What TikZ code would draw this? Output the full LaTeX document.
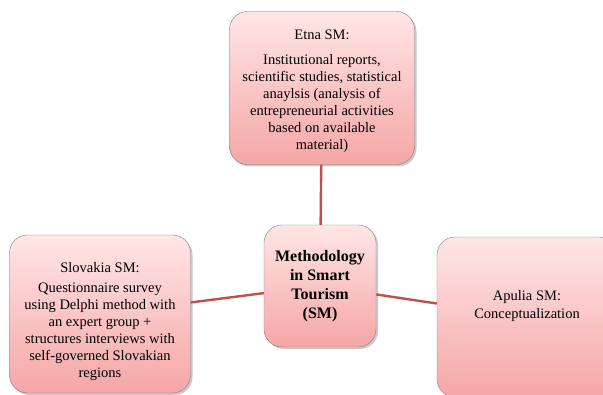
\documentclass[tikz,border=0pt]{standalone}
\usepackage{fontspec}
\setmainfont{Liberation Serif}
\usetikzlibrary{positioning}
\usetikzlibrary{shadows}
\definecolor{boxtop}{HTML}{FFE6E6}
\definecolor{boxbottom}{HTML}{F5A6A6}
\definecolor{boxline}{HTML}{7F7F7F}
\definecolor{linkred}{HTML}{C0504D}
\newcommand{\topgap}[1]{\rule{0pt}{#1}}
\begin{document}
\begin{tikzpicture}[
    x=1pt, y=-1pt,
    box/.style={draw=boxline, rounded corners=18pt, top color=boxtop, bottom color=boxbottom,
        align=center, inner sep=4pt, font=\rmfamily\fontsize{14.5}{17}\selectfont,
        drop shadow={shadow xshift=2pt, shadow yshift=-2pt, opacity=0.35, fill=black!60}},
    link/.style={draw=linkred, line width=2.4pt}
]
    \useasboundingbox (0,0) rectangle (603,395);
    % Center (methodology)
    \node[box, minimum width=112pt, minimum height=122pt, font=\rmfamily\fontsize{16}{19}\selectfont\bfseries] (sm) at (320,286)
        {Methodology\\in Smart\\Tourism\\(SM)};
    % Outer boxes
    \node[box, minimum width=185pt, minimum height=153pt] (etna) at (322,88)
        {\topgap{16pt}Etna SM:\\[8pt]Institutional reports,\\scientific studies, statistical\\anaylsis (analysis of\\entrepreneurial activities\\based on available\\material)};
    \node[box, minimum width=181pt, minimum height=158pt] (slovakia) at (100,314)
        {\topgap{26pt}Slovakia SM:\\[3pt]Questionnaire survey\\using Delphi method with\\an expert group +\\structures interviews with\\self-governed Slovakian\\regions};
    \node[box, minimum width=180pt, minimum height=160pt] (apulia) at (527,317)
        {Apulia SM:\\[1pt]Conceptualization\\[8pt]};
    % Links to the center
    \draw[link] (etna) -- (sm);
    \draw[link] (slovakia) -- (sm);
    \draw[link] (sm) -- (apulia);
\end{tikzpicture}
\end{document}
